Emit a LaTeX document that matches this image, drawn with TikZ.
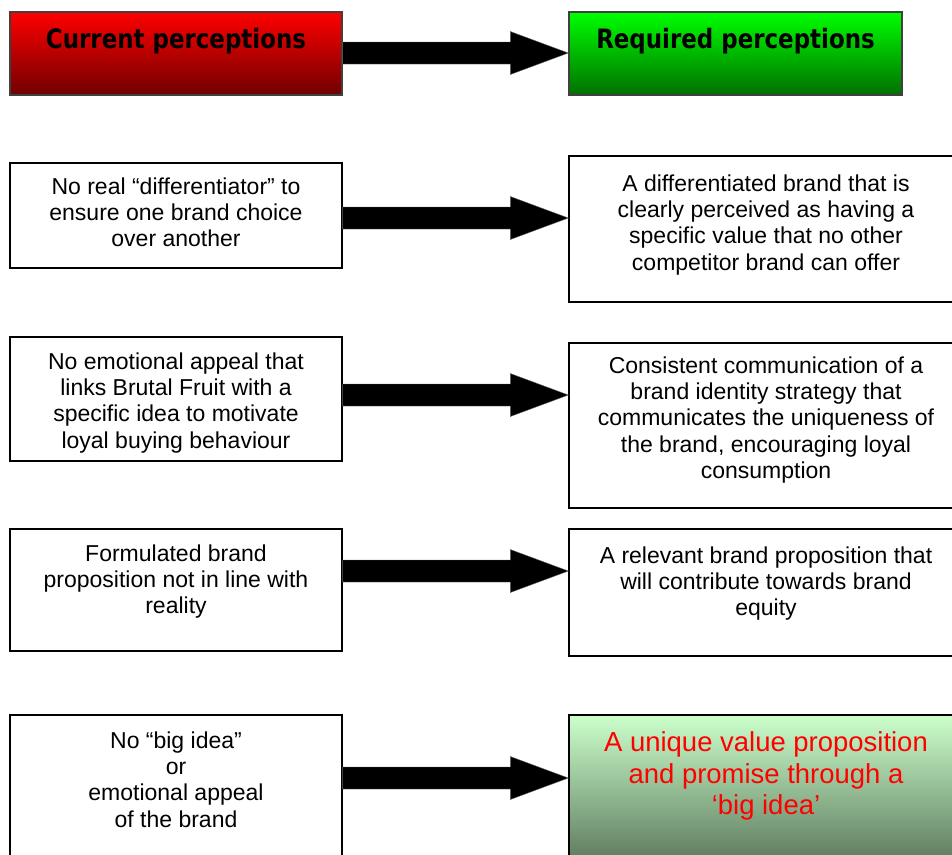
\documentclass[tikz,border=0pt]{standalone}
\usepackage{fontspec}
\setmainfont{Liberation Sans}
\newfontfamily\headfont[FakeStretch=0.86]{DejaVu Sans}
\usetikzlibrary{calc,fit}

\definecolor{headred}{RGB}{255,0,0}
\definecolor{headredlow}{RGB}{112,0,0}
\definecolor{headgreen}{RGB}{0,255,0}
\definecolor{headgreenlow}{RGB}{0,112,0}
\definecolor{palegreen}{RGB}{204,255,204}
\definecolor{duskgreen}{RGB}{80,106,80}

% fat block arrow from #1 (tail, on the shaft axis) to #2 (tip)
\newcommand\fatarrow[2]{%
  \path[fatarrow] ($(#1)+(0,-11)$) -- ($(#2)+(-58,-11)$) -- ($(#2)+(-58,-21.5)$)
    -- (#2) -- ($(#2)+(-58,21.5)$) -- ($(#2)+(-58,11)$) -- ($(#1)+(0,11)$) -- cycle;}

\begin{document}
\begin{tikzpicture}[x=0.75pt,y=-0.75pt,
  box/.style={draw=black, line width=1pt, inner sep=0pt, rectangle},
  headbox/.style={draw=black!75, line width=1pt, inner sep=0pt, rectangle},
  bodytext/.style={font=\fontsize{17.25pt}{19.7pt}\selectfont, align=center,
                   inner sep=0pt, anchor=north},
  bigtext/.style={font=\fontsize{20.6pt}{23.6pt}\selectfont, align=center,
                  inner sep=0pt, anchor=north, text=red},
  headtext/.style={font=\headfont\bfseries\fontsize{20pt}{24pt}\selectfont,
                   inner sep=0pt, anchor=base},
  fatarrow/.style={fill=black, draw=black!60, line width=0.3pt},
]
\useasboundingbox (0,0) rectangle (952,854);
\clip (0,0) rectangle (952,854);
\fill[white] (0,0) rectangle (952,854);

% column headers
\node[headbox, fit={(10,12) (342,95)}, top color=headred, bottom color=headredlow] (curH) {};
\node[headbox, fit={(569,12) (902,95)}, top color=headgreen, bottom color=headgreenlow] (reqH) {};
\node[headtext] (curHt) at (176,48) {Current perceptions};
\node[headtext] (reqHt) at (735.5,48) {Required perceptions};

% current perceptions
\node[box, fit={(10,163) (342,268)}] (cur1) {};
\node[box, fit={(10,337) (342,461)}] (cur2) {};
\node[box, fit={(10,529) (342,651)}] (cur3) {};
\node[box, fit={(10,715) (342,880)}] (cur4) {};

% required perceptions
\node[box, fit={(569,156) (963,302)}] (req1) {};
\node[box, fit={(569,343) (963,508)}] (req2) {};
\node[box, fit={(569,529) (963,656)}] (req3) {};
\node[box, fit={(569,715) (963,880)}, top color=palegreen, bottom color=duskgreen] (req4) {};

% texts
\node[bodytext] (cur1t) at (176,177.5) {No real “differentiator” to\\ensure one brand choice\\over another};
\node[bodytext] (cur2t) at (176,352.5) {No emotional appeal that\\links Brutal Fruit with a\\specific idea to motivate\\loyal buying behaviour};
\node[bodytext] (cur3t) at (176,544.5) {Formulated brand\\proposition not in line with\\reality};
\node[bodytext] (cur4t) at (176,731.5) {No “big idea”\\or\\emotional appeal\\of the brand};

\node[bodytext] (req1t) at (766,174.5) {A differentiated brand that is\\clearly perceived as having a\\specific value that no other\\competitor brand can offer};
\node[bodytext] (req2t) at (766,356.5) {Consistent communication of a\\brand identity strategy that\\communicates the uniqueness of\\the brand, encouraging loyal\\consumption};
\node[bodytext] (req3t) at (766,546.5) {A relevant brand proposition that\\will contribute towards brand\\equity};
\node[bigtext] (req4t) at (766,731.5) {A unique value proposition\\and promise through a\\‘big idea’};

% arrows
\coordinate (a0s) at (curH.east |- 0,53);  \coordinate (a0e) at (reqH.west |- 0,53);
\coordinate (a1s) at (cur1.east |- 0,218); \coordinate (a1e) at (req1.west |- 0,218);
\coordinate (a2s) at (cur2.east |- 0,395); \coordinate (a2e) at (req2.west |- 0,395);
\coordinate (a3s) at (cur3.east |- 0,571); \coordinate (a3e) at (req3.west |- 0,571);
\coordinate (a4s) at (cur4.east |- 0,778); \coordinate (a4e) at (req4.west |- 0,778);
\fatarrow{a0s}{a0e}
\fatarrow{a1s}{a1e}
\fatarrow{a2s}{a2e}
\fatarrow{a3s}{a3e}
\fatarrow{a4s}{a4e}
\end{tikzpicture}
\end{document}
